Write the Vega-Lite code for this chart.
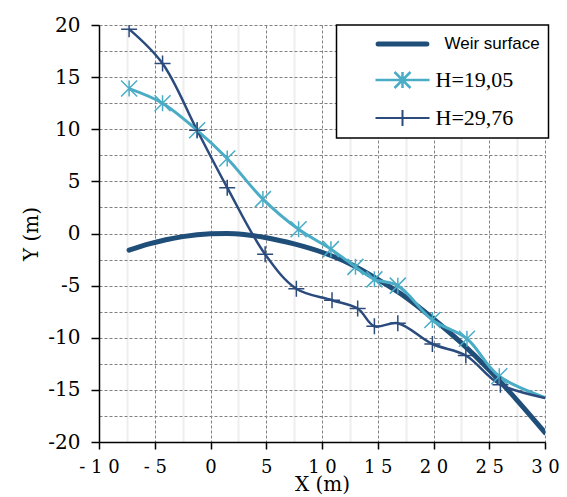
{
  "$schema": "https://vega.github.io/schema/vega-lite/v6.json",
  "width": 446,
  "height": 417,
  "autosize": {"type": "none"},
  "padding": {"left": 99, "top": 25, "right": 22, "bottom": 55},
  "background": "white",
  "config": {"view": {"stroke": null}},
  "data": {
    "values": [
      {"series": "Weir surface", "x": -7.3, "y": -1.6},
      {"series": "Weir surface", "x": -5.5, "y": -1.0},
      {"series": "Weir surface", "x": -4, "y": -0.6},
      {"series": "Weir surface", "x": -2.5, "y": -0.3},
      {"series": "Weir surface", "x": 0, "y": -0.03},
      {"series": "Weir surface", "x": 1.5, "y": 0},
      {"series": "Weir surface", "x": 3, "y": -0.1},
      {"series": "Weir surface", "x": 5, "y": -0.4},
      {"series": "Weir surface", "x": 7.5, "y": -1.0},
      {"series": "Weir surface", "x": 10, "y": -1.8},
      {"series": "Weir surface", "x": 12.5, "y": -2.9},
      {"series": "Weir surface", "x": 15, "y": -4.4},
      {"series": "Weir surface", "x": 17.5, "y": -6.1},
      {"series": "Weir surface", "x": 20, "y": -8.2},
      {"series": "Weir surface", "x": 22.5, "y": -10.5},
      {"series": "Weir surface", "x": 25, "y": -13.1},
      {"series": "Weir surface", "x": 27.5, "y": -16.0},
      {"series": "Weir surface", "x": 30, "y": -19.1},
      {"series": "H=19,05", "x": -7.3, "y": 13.9},
      {"series": "H=19,05", "x": -4.3, "y": 12.5},
      {"series": "H=19,05", "x": -1.2, "y": 9.9},
      {"series": "H=19,05", "x": 1.5, "y": 7.2},
      {"series": "H=19,05", "x": 4.7, "y": 3.3},
      {"series": "H=19,05", "x": 7.9, "y": 0.4},
      {"series": "H=19,05", "x": 10.8, "y": -1.5},
      {"series": "H=19,05", "x": 13.0, "y": -3.2},
      {"series": "H=19,05", "x": 14.7, "y": -4.4},
      {"series": "H=19,05", "x": 16.8, "y": -5.0},
      {"series": "H=19,05", "x": 19.9, "y": -8.3},
      {"series": "H=19,05", "x": 23.0, "y": -10.1},
      {"series": "H=19,05", "x": 25.9, "y": -13.7},
      {"series": "H=19,05", "x": 31.5, "y": -16.3},
      {"series": "H=29,76", "x": -7.3, "y": 19.6},
      {"series": "H=29,76", "x": -4.3, "y": 16.3},
      {"series": "H=29,76", "x": -1.2, "y": 9.9},
      {"series": "H=29,76", "x": 1.5, "y": 4.4},
      {"series": "H=29,76", "x": 4.9, "y": -2.0},
      {"series": "H=29,76", "x": 7.7, "y": -5.3},
      {"series": "H=29,76", "x": 10.9, "y": -6.4},
      {"series": "H=29,76", "x": 13.2, "y": -7.2},
      {"series": "H=29,76", "x": 14.7, "y": -8.9},
      {"series": "H=29,76", "x": 16.8, "y": -8.6},
      {"series": "H=29,76", "x": 19.9, "y": -10.6},
      {"series": "H=29,76", "x": 22.9, "y": -11.7},
      {"series": "H=29,76", "x": 26.0, "y": -14.5},
      {"series": "H=29,76", "x": 32.0, "y": -16.2}
    ]
  },
  "encoding": {
    "x": {
      "field": "x", "type": "quantitative",
      "scale": {"domain": [-10, 30], "nice": false, "zero": false},
      "axis": {
        "values": [-10, -7.5, -5, -2.5, 0, 2.5, 5, 7.5, 10, 12.5, 15, 17.5, 20, 22.5, 25, 27.5, 30],
        "labelExpr": "datum.value % 5 === 0 ? join(split('' + datum.value, ''), ' ') : ''",
        "labelOverlap": false, "labelFlush": false,
        "grid": true,
        "gridColor": {"condition": {"test": "datum.value % 5 === 0", "value": "#808080"}, "value": "#eeeeee"},
        "gridDash": {"condition": {"test": "datum.value % 5 === 0", "value": [3, 2]}, "value": []},
        "gridWidth": {"condition": {"test": "datum.value % 5 === 0", "value": 1}, "value": 2},
        "tickOpacity": {"condition": {"test": "datum.value % 5 === 0", "value": 1}, "value": 0},
        "domainColor": "black", "domainWidth": 1.5,
        "tickColor": "black", "tickWidth": 1.5, "tickSize": 7,
        "labelFont": "DejaVu Serif", "labelFontSize": 18, "labelColor": "black", "labelPadding": 9,
        "title": "X (m)", "titleFont": "DejaVu Serif", "titleFontSize": 20, "titleFontWeight": "normal",
        "titleColor": "black", "titleY": 48, "titleBaseline": "alphabetic"
      }
    },
    "y": {
      "field": "y", "type": "quantitative",
      "scale": {"domain": [-20, 20], "nice": false, "zero": false},
      "axis": {
        "values": [-20, -17.5, -15, -12.5, -10, -7.5, -5, -2.5, 0, 2.5, 5, 7.5, 10, 12.5, 15, 17.5, 20],
        "labelExpr": "datum.value % 5 === 0 ? '' + datum.value : ''",
        "labelOverlap": false, "labelFlush": false,
        "grid": true, "gridColor": "#808080", "gridDash": [3, 2], "gridWidth": 1,
        "tickOpacity": {"condition": {"test": "datum.value % 5 === 0", "value": 1}, "value": 0},
        "domainColor": "black", "domainWidth": 1.5,
        "tickColor": "black", "tickWidth": 1.5, "tickSize": 8,
        "labelFont": "DejaVu Serif", "labelFontSize": 20, "labelColor": "black", "labelPadding": 11,
        "title": "Y (m)", "titleFont": "DejaVu Serif", "titleFontSize": 20, "titleFontWeight": "normal",
        "titleColor": "black", "titlePadding": 6
      }
    },
    "color": {
      "field": "series", "type": "nominal",
      "scale": {"domain": ["Weir surface", "H=19,05", "H=29,76"], "range": ["#1F4E79", "#4BACC6", "#2A4B7C"]},
      "legend": {
        "title": null, "orient": "none", "legendX": 237.5, "legendY": 0,
        "fillColor": "white", "strokeColor": "black",
        "padding": 8, "symbolOffset": 47, "symbolSize": 256, "labelOffset": 22, "rowPadding": 13,
        "labelFont": "Liberation Serif", "labelFontSize": 22, "labelColor": "black", "labelLimit": 220,
        "encode": {
          "legend": {"update": {"strokeWidth": {"value": 1.5}}},
          "symbols": {"update": {
            "shape": {"signal": "datum.value === 'Weir surface' ? 'M-3.05,0L3.05,0' : datum.value === 'H=19,05' ? 'M-3.375,0L3.375,0M-1,-1L1,1M-1,1L1,-1M0,-1L0,1' : 'M-3.375,0L3.375,0M0,-1L0,1'"},
            "strokeWidth": {"signal": "datum.value === 'Weir surface' ? 5 : datum.value === 'H=19,05' ? 2.5 : 2"},
            "strokeCap": {"signal": "datum.value === 'Weir surface' ? 'round' : 'butt'"},
            "fill": {"value": "transparent"},
            "opacity": {"value": 1}
          }},
          "labels": {"update": {
            "font": {"signal": "datum.value === 'Weir surface' ? 'Liberation Sans' : 'Liberation Serif'"},
            "fontSize": {"signal": "datum.value === 'Weir surface' ? 17 : 22"},
            "dx": {"signal": "datum.value === 'Weir surface' ? 9 : 0"}
          }}
        }
      }
    }
  },
  "layer": [
    {
      "transform": [{"filter": "datum.series === 'Weir surface'"}],
      "mark": {"type": "line", "strokeWidth": 5, "interpolate": "monotone", "clip": true, "strokeCap": "round"}
    },
    {
      "transform": [{"filter": "datum.series === 'H=19,05'"}],
      "mark": {"type": "line", "strokeWidth": 3, "interpolate": "catmull-rom", "clip": true}
    },
    {
      "transform": [{"filter": "datum.series === 'H=29,76'"}],
      "mark": {"type": "line", "strokeWidth": 2.5, "interpolate": "catmull-rom", "clip": true}
    },
    {
      "transform": [{"filter": "datum.series === 'H=19,05'"}],
      "mark": {"type": "point", "shape": "M-1,-1L1,1M-1,1L1,-1M0,-1L0,1", "filled": false, "size": 256, "strokeWidth": 1.5, "opacity": 1, "clip": true}
    },
    {
      "transform": [{"filter": "datum.series === 'H=29,76'"}],
      "mark": {"type": "point", "shape": "M-1,0L1,0M0,-1L0,1", "filled": false, "size": 256, "strokeWidth": 1.5, "opacity": 1, "clip": true}
    }
  ]
}
